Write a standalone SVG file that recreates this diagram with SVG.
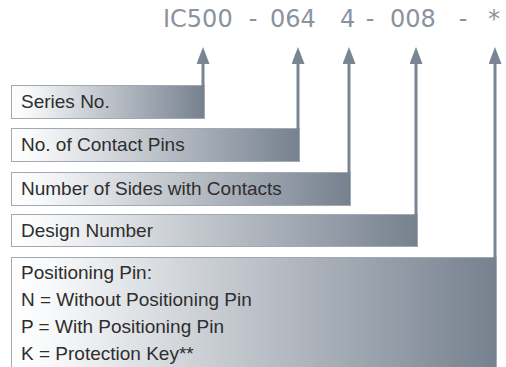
<svg xmlns="http://www.w3.org/2000/svg" width="506" height="367" viewBox="0 0 506 367">
<defs>
<linearGradient id="g" x1="0" y1="0" x2="1" y2="0">
<stop offset="0" stop-color="#ffffff"/>
<stop offset="0.08" stop-color="#f8f9fa"/>
<stop offset="1" stop-color="#76818f"/>
</linearGradient>
<marker id="ah" viewBox="0 0 17 13" refX="0" refY="6.5" markerWidth="17" markerHeight="13" markerUnits="userSpaceOnUse" orient="auto">
<path d="M0,0 L17,6.5 L0,13 z" fill="#7a8593"/>
</marker>
<style>
.code{font-family:"DejaVu Sans",sans-serif;font-size:24px;fill:#8a939e}
.box{fill:url(#g);stroke:#a3a9b2;stroke-width:1}
.lbl{font-family:"Liberation Sans",Arial,sans-serif;font-size:19px;fill:#2e2e2e}
.conn{stroke:#7a8593;stroke-width:3;fill:none;marker-end:url(#ah)}
</style>
</defs>
<rect width="506" height="367" fill="#ffffff"/>
<g id="code">
<text class="code" x="163" y="27">IC500</text>
<text class="code" x="253" y="27" text-anchor="middle">-</text>
<text class="code" x="270" y="27">064</text>
<text class="code" x="340" y="27">4</text>
<text class="code" x="370" y="27" text-anchor="middle">-</text>
<text class="code" x="390" y="27">008</text>
<text class="code" x="463" y="27" text-anchor="middle">-</text>
<text class="code" x="494" y="27" text-anchor="middle">*</text>
</g>
<g id="series">
<rect class="box" x="11.5" y="85.5" width="193" height="33"/>
<text class="lbl" x="21" y="108">Series No.</text>
</g>
<g id="pins">
<rect class="box" x="11.5" y="128.5" width="288" height="33"/>
<text class="lbl" x="21" y="151">No. of Contact Pins</text>
</g>
<g id="sides">
<rect class="box" x="11.5" y="172.5" width="339" height="33"/>
<text class="lbl" x="21" y="195">Number of Sides with Contacts</text>
</g>
<g id="design">
<rect class="box" x="11.5" y="214.5" width="406" height="32"/>
<text class="lbl" x="21" y="237">Design Number</text>
</g>
<g id="positioning">
<rect class="box" x="11.5" y="257.5" width="485" height="112"/>
<text class="lbl" x="21" y="279">Positioning Pin:</text>
<text class="lbl" x="21" y="306">N = Without Positioning Pin</text>
<text class="lbl" x="21" y="333">P = With Positioning Pin</text>
<text class="lbl" x="21" y="360">K = Protection Key**</text>
</g>
<g id="connectors">
<line class="conn" x1="203" y1="86" x2="203" y2="64"/>
<line class="conn" x1="298" y1="129" x2="298" y2="64"/>
<line class="conn" x1="349" y1="173" x2="349" y2="64"/>
<line class="conn" x1="416" y1="215" x2="416" y2="64"/>
<line class="conn" x1="495" y1="258" x2="495" y2="64"/>
</g>
</svg>
